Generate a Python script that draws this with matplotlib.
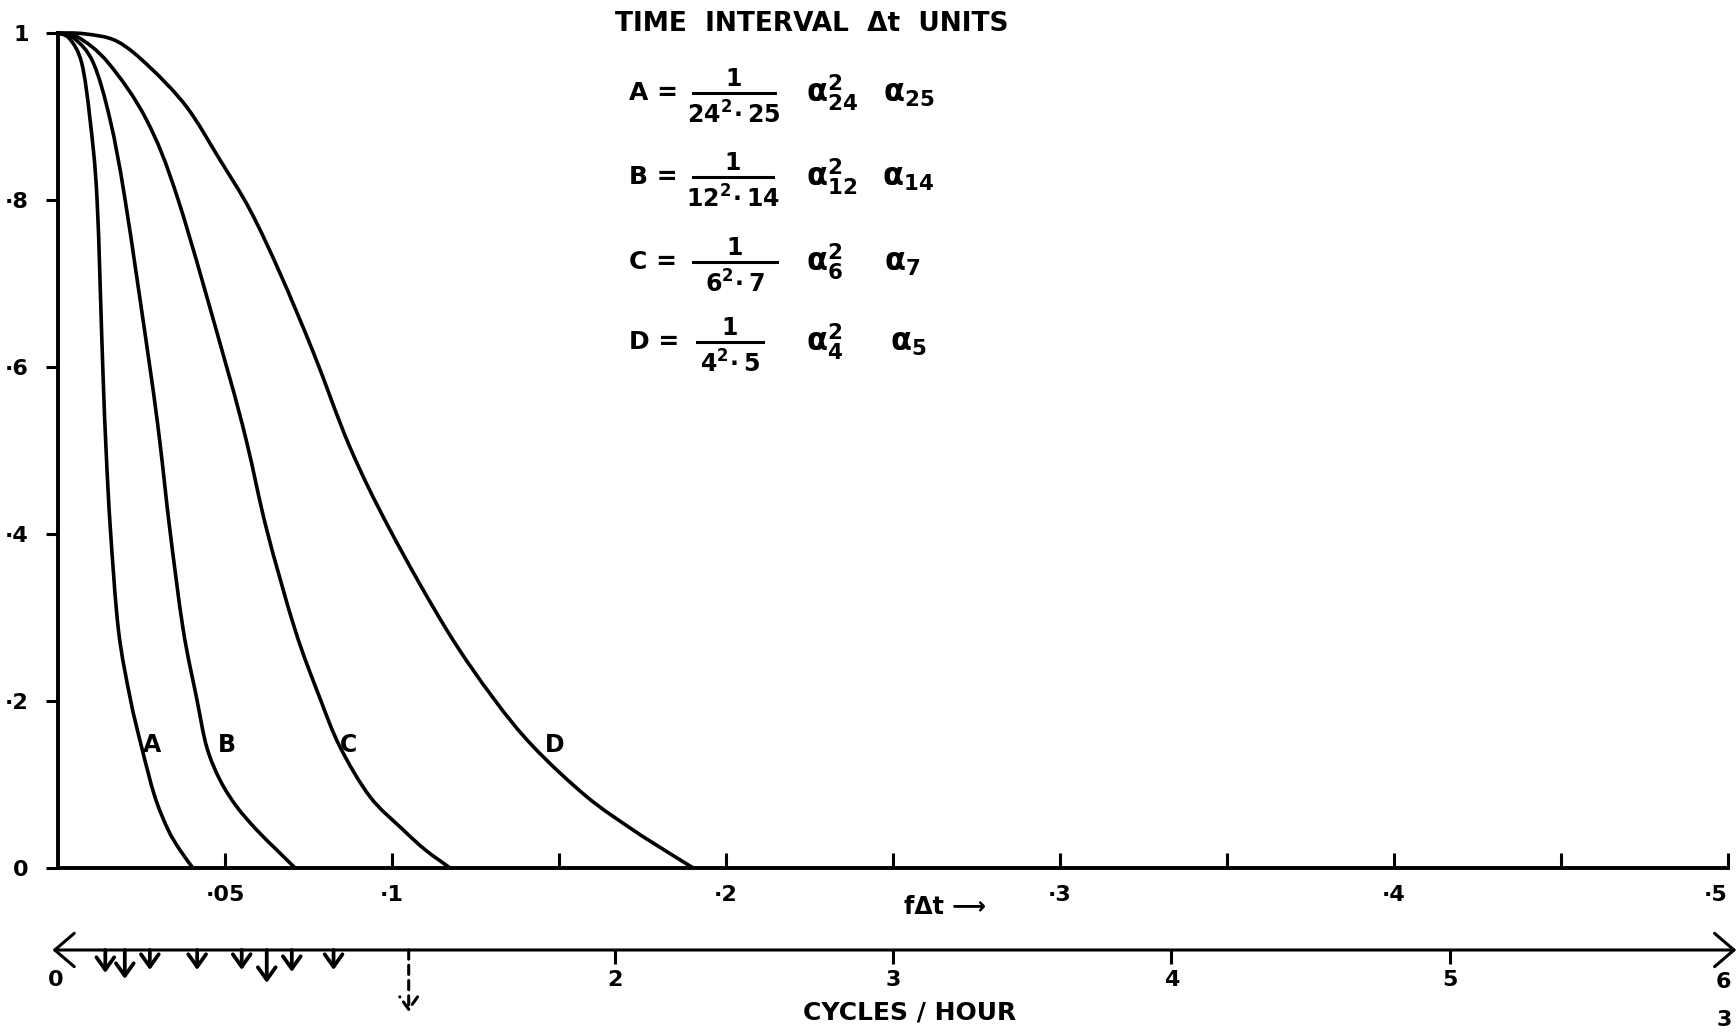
import matplotlib
matplotlib.use("Agg")
import matplotlib.pyplot as plt
from matplotlib.path import Path
from matplotlib.patches import PathPatch
from matplotlib.lines import Line2D

plt.rcParams['font.family'] = ['DejaVu Sans']
plt.rcParams['font.weight'] = 'bold'
plt.rcParams['mathtext.fontset'] = 'custom'
plt.rcParams['mathtext.rm'] = 'DejaVu Sans:bold'
plt.rcParams['mathtext.it'] = 'DejaVu Sans:bold'
plt.rcParams['mathtext.bf'] = 'DejaVu Sans:bold'
plt.rcParams['mathtext.default'] = 'bf'

# response curves, fdt vs relative amplitude
a_x = [0, 0.0035, 0.0071, 0.0096, 0.0117, 0.0134, 0.0144, 0.0157, 0.0181, 0.0216,
       0.0250, 0.0290, 0.0330, 0.0365, 0.0404]
a_y = [1, 0.993, 0.964, 0.896, 0.800, 0.600, 0.500, 0.405, 0.285, 0.2036,
       0.1453, 0.0854, 0.0455, 0.0216, 0]

b_x = [0, 0.0050, 0.0106, 0.0156, 0.0201, 0.0275, 0.0305, 0.0335, 0.0375, 0.0415,
       0.0445, 0.0485, 0.0535, 0.0595, 0.0655, 0.0710]
b_y = [1, 0.993, 0.964, 0.896, 0.800, 0.600, 0.510, 0.405, 0.285, 0.2036,
       0.1453, 0.1054, 0.0735, 0.0455, 0.0216, 0]

c_x = [0, 0.0060, 0.0151, 0.0265, 0.0360, 0.0505, 0.0565, 0.0625, 0.0710, 0.0784,
       0.0844, 0.0934, 0.1034, 0.1100, 0.1174]
c_y = [1, 0.995, 0.964, 0.896, 0.800, 0.600, 0.510, 0.405, 0.285, 0.2036,
       0.1453, 0.0854, 0.0455, 0.0216, 0]

d_x = [0, 0.0080, 0.0177, 0.0275, 0.0386, 0.0485, 0.0575, 0.0665, 0.0765, 0.0874,
       0.0994, 0.1164, 0.1303, 0.1423, 0.1583, 0.1722, 0.1815, 0.1902]
d_y = [1, 0.999, 0.990, 0.959, 0.911, 0.848, 0.788, 0.712, 0.617, 0.504,
       0.405, 0.285, 0.2036, 0.1453, 0.0854, 0.0455, 0.0216, 0]

curve_names = ['A', 'B', 'C', 'D']
label_x = [0.0254, 0.0479, 0.0844, 0.1458]
label_y = 0.147

x_ticks = [0.05, 0.1, 0.15, 0.2, 0.25, 0.3, 0.35, 0.4, 0.45, 0.5]
x_labels = ['·05', '·1', '', '·2', '', '·3', '', '·4', '', '·5']
y_ticks = [0, 0.2, 0.4, 0.6, 0.8, 1.0]
y_labels = ['0', '·2', '·4', '·6', '·8', '1']

# lower scale in cycles / hour
cph_ticks = [2, 3, 4, 5]
cph_labels = ['2', '3', '4', '5']
marker_cph = [0.17, 0.24, 0.33, 0.50, 0.66, 0.75, 0.84, 0.99]
marker_len = [23, 29, 20, 20, 20, 33, 22, 20]
dashed_cph = 1.26

# filter key: name, weight 1 / (n^2 . m), running-mean terms
key_names = ['A =', 'B =', 'C =', 'D =']
key_denoms = [r'$24^{2}\!\cdot 25$', r'$12^{2}\!\cdot 14$',
              r'$6^{2}\!\cdot 7$', r'$4^{2}\!\cdot 5$']
key_first = [r'$\alpha^{2}_{24}$', r'$\alpha^{2}_{12}$', r'$\alpha^{2}_{6}$', r'$\alpha^{2}_{4}$']
key_second = [r'$\alpha_{25}$', r'$\alpha_{14}$', r'$\alpha_{7}$', r'$\alpha_{5}$']
key_rows = [93, 177, 262, 342]
key_bar = [(693, 775), (693, 773), (693, 777), (697, 763)]
key_second_x = [883, 882, 884, 890]


def smooth_path(xs, ys):
    # Catmull-Rom segments through the read points, as cubic Bezier pieces
    pts = list(zip(xs, ys))
    n = len(pts)
    verts = [pts[0]]
    codes = [Path.MOVETO]
    for i in range(n - 1):
        p0 = pts[i - 1] if i > 0 else pts[i]
        p1, p2 = pts[i], pts[i + 1]
        p3 = pts[i + 2] if i + 2 < n else pts[i + 1]
        c1 = (p1[0] + (p2[0] - p0[0]) / 6, p1[1] + (p2[1] - p0[1]) / 6)
        c2 = (p2[0] - (p3[0] - p1[0]) / 6, p2[1] - (p3[1] - p1[1]) / 6)
        verts += [c1, c2, p2]
        codes += [Path.CURVE4] * 3
    return Path(verts, codes)


W, H = 1736, 1034
fig = plt.figure(figsize=(W / 100, H / 100), dpi=100)
ax = fig.add_axes([58 / W, 1 - 868 / H, 1670 / W, 835 / H])

for xs, ys in [(a_x, a_y), (b_x, b_y), (c_x, c_y), (d_x, d_y)]:
    ax.add_patch(PathPatch(smooth_path(xs, ys), facecolor='none', edgecolor='black',
                           lw=2.6, clip_on=False, capstyle='round', joinstyle='round'))

for name, lx in zip(curve_names, label_x):
    ax.text(lx, label_y, name, ha='left', va='center', fontsize=17)

ax.set_xlim(0, 0.5)
ax.set_ylim(0, 1)
for s in ['top', 'right']:
    ax.spines[s].set_visible(False)
for s in ['left', 'bottom']:
    ax.spines[s].set_linewidth(2.8)
ax.set_xticks(x_ticks)
ax.set_xticklabels(x_labels)
ax.get_xticklabels()[-1].set_horizontalalignment('right')
ax.set_yticks(y_ticks)
ax.set_yticklabels(y_labels)
ax.tick_params(axis='x', direction='in', length=11, width=2.2, pad=12, labelsize=16)
ax.tick_params(axis='y', direction='out', length=9, width=2.2, pad=12, labelsize=16)
ax.text(0.2656, -0.047, 'fΔt ⟶', ha='center', va='center', fontsize=17,
        transform=ax.transData, clip_on=False)

ax2 = fig.add_axes([58 / W, 0, 1670 / W, 84 / H])
ax2.set_xlim(0, 6)
ax2.set_ylim(-84, 0)
ax2.axis('off')
ax2.annotate('', xy=(6.03, 0), xytext=(-0.02, 0), annotation_clip=False,
             arrowprops=dict(arrowstyle='<->,head_length=0.7,head_width=0.6',
                             lw=2.2, color='black', shrinkA=0, shrinkB=0,
                             mutation_scale=20))
ax2.vlines(cph_ticks, -14, 0, color='black', lw=2.2)
for t, lab in zip(cph_ticks, cph_labels):
    ax2.text(t, -30, lab, ha='center', va='center', fontsize=16)
ax2.text(-0.01, -30, '0', ha='center', va='center', fontsize=16)
ax2.text(5.985, -32, '6', ha='center', va='center', fontsize=16)
ax2.text(5.985, -70, '3', ha='center', va='center', fontsize=16)
ax2.text(3.06, -62, 'CYCLES / HOUR', ha='center', va='center', fontsize=18)

for m, ln in zip(marker_cph, marker_len):
    ax2.annotate('', xy=(m, -ln), xytext=(m, 0), annotation_clip=False,
                 arrowprops=dict(arrowstyle='->,head_length=0.45,head_width=0.32',
                                 lw=2.7, color='black', shrinkA=0, shrinkB=0,
                                 mutation_scale=20))
ax2.annotate('', xy=(dashed_cph, -62), xytext=(dashed_cph, 0), annotation_clip=False,
             arrowprops=dict(arrowstyle='->,head_length=0.45,head_width=0.32',
                             lw=2.2, ls=(0, (3, 2)), color='black', shrinkA=0, shrinkB=0,
                             mutation_scale=20))

fig.text(812 / W, 1 - 24 / H, 'TIME  INTERVAL  Δt  UNITS', ha='center', va='center',
         fontsize=19)
for name, den, first, second, row, bar, sx in zip(key_names, key_denoms, key_first,
                                                  key_second, key_rows, key_bar,
                                                  key_second_x):
    mid = (bar[0] + bar[1]) / 2
    fig.text(629 / W, 1 - row / H, name, ha='left', va='center', fontsize=18)
    fig.text(mid / W, 1 - (row - 14) / H, '1', ha='center', va='center', fontsize=17)
    fig.add_artist(Line2D([bar[0] / W, bar[1] / W], [1 - row / H, 1 - row / H],
                          transform=fig.transFigure, color='black', lw=2.2))
    fig.text(mid / W, 1 - (row + 22) / H, den, ha='center', va='center', fontsize=17)
    fig.text(806 / W, 1 - (row + 9) / H, first, ha='left', va='baseline', fontsize=22)
    fig.text(sx / W, 1 - (row + 9) / H, second, ha='left', va='baseline', fontsize=22)

fig.savefig('out.png', dpi=100)
